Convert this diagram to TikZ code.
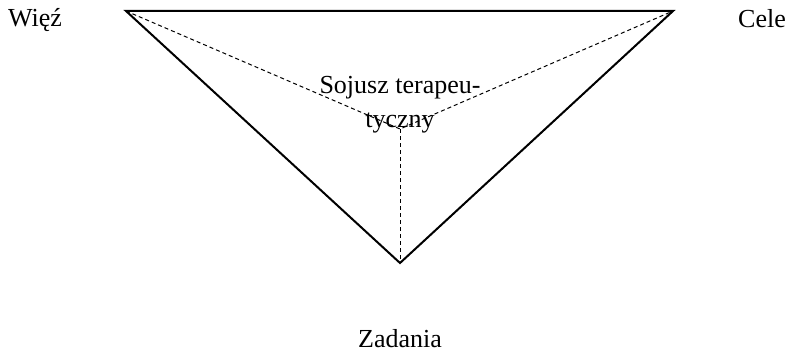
\documentclass[tikz,border=0pt]{standalone}
\usepackage{fontspec}
\setmainfont{Liberation Serif}
\begin{document}
\begin{tikzpicture}[x=1pt,y=-1pt,font=\fontsize{26}{34}\selectfont,
	corner/.style={inner sep=0pt},
	leg/.style={line width=1pt,dash pattern=on 4pt off 3pt}]
		\useasboundingbox (0,0) rectangle (792,353);
		\coordinate (A) at (126,11);
		\coordinate (B) at (673,11);
		\coordinate (C) at (400,263);
		\coordinate (M) at (400,129);
		\draw[leg] (A) -- (M) -- (B);
		\draw[leg] (M) -- (C);
		\draw[line width=2pt,line join=miter] (A) -- (B) -- (C) -- cycle;
		\node[corner,anchor=base west] (wiez) at (8,27) {Więź};
		\node[corner,anchor=base east] (cele) at (786,28) {Cele};
		\node[corner,anchor=base] (zadania) at (400,347) {Zadania};
		\node[corner,anchor=north,align=center] (sojusz) at (400,76) {Sojusz terapeu-\\tyczny};
\end{tikzpicture}
\end{document}
